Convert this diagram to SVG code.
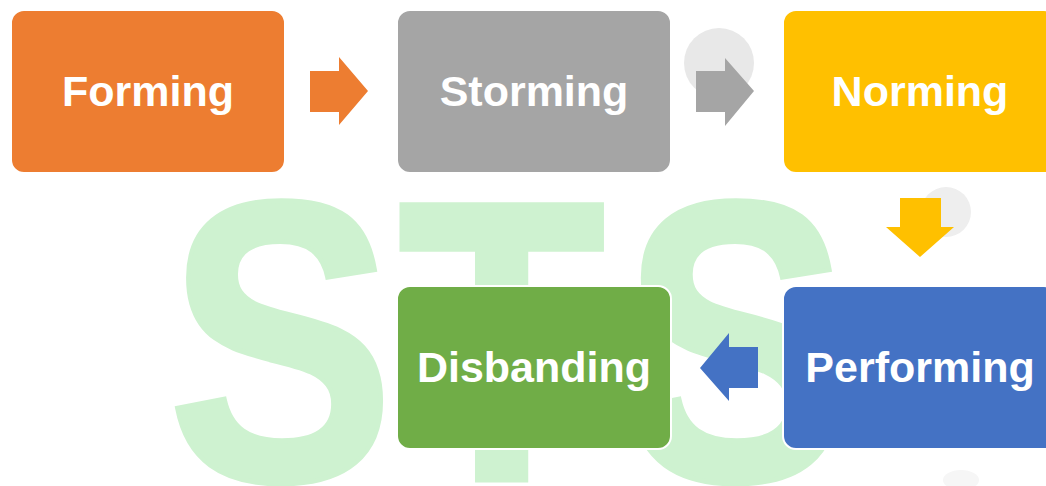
<svg xmlns="http://www.w3.org/2000/svg" width="1046" height="486" viewBox="0 0 1046 486">
<style>
.box{stroke:#ffffff;stroke-width:2}
.lbl{font-family:"Liberation Sans",Arial,sans-serif;font-weight:bold;font-size:43px;fill:#ffffff;text-anchor:middle}
.wm{font-family:"Liberation Sans",Arial,sans-serif;font-weight:bold;font-size:400px;fill:#cef2d0;stroke:#cef2d0;stroke-width:5}
</style>
<rect width="1046" height="486" fill="#ffffff"/>
<g id="watermark">
<text class="wm" transform="scale(0.85,1)" x="197 468 732" y="480">STS</text>
<circle cx="719" cy="63" r="35" fill="#e8e8e8"/>
<circle cx="946" cy="212" r="25" fill="#eeeeee"/>
<ellipse cx="961" cy="480" rx="18" ry="10" fill="#f6f6f6"/>
</g>
<g id="connectors">
<polygon points="310,71 339,71 339,57 368,91 339,125 339,112 310,112" fill="#ed7d31"/>
<polygon points="696,71 725,71 725,58 754,91 725,126 725,112 696,112" fill="#a5a5a5"/>
<polygon points="900,198 941,198 941,227 954,227 920,257 886,227 900,227" fill="#ffc000"/>
<polygon points="758,347 729,347 729,333 700,368 729,401 729,388 758,388" fill="#4472c4"/>
</g>
<g id="forming">
<rect class="box" x="11" y="10" width="274" height="163" rx="13" fill="#ed7d31"/>
<text class="lbl" x="148" y="106">Forming</text>
</g>
<g id="storming">
<rect class="box" x="397" y="10" width="274" height="163" rx="13" fill="#a5a5a5"/>
<text class="lbl" x="534" y="106">Storming</text>
</g>
<g id="norming">
<rect class="box" x="783" y="10" width="274" height="163" rx="13" fill="#ffc000"/>
<text class="lbl" x="920" y="106">Norming</text>
</g>
<g id="performing">
<rect class="box" x="783" y="286" width="274" height="163" rx="13" fill="#4472c4"/>
<text class="lbl" x="920" y="382">Performing</text>
</g>
<g id="disbanding">
<rect class="box" x="397" y="286" width="274" height="163" rx="13" fill="#70ad47"/>
<text class="lbl" x="534" y="382">Disbanding</text>
</g>
</svg>
